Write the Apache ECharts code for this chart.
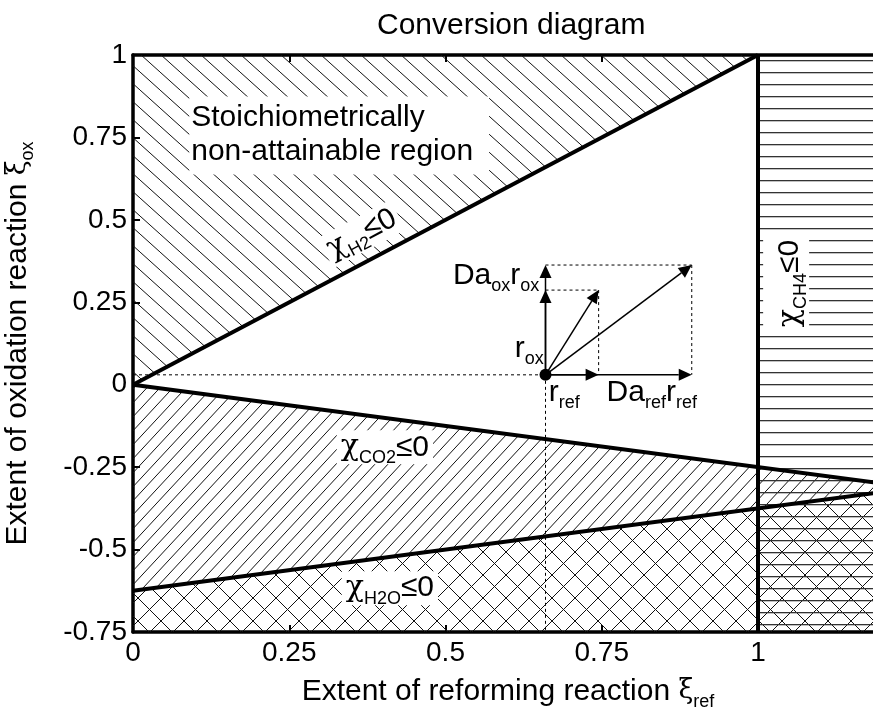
<!DOCTYPE html>
<html><head><meta charset="utf-8">
<script src="https://cdn.jsdelivr.net/npm/echarts@6/dist/echarts.min.js"></script>
<style>html,body{margin:0;padding:0;background:#fff}#c{width:873px;height:709px}</style>
</head><body><div id="c"></div>
<script>
// ---- data ----
const xTicks = [0, 0.25, 0.5, 0.75, 1];
const yTicks = [-0.75, -0.5, -0.25, 0, 0.25, 0.5, 0.75, 1];
const xMin = 0, xMax = 1.2, yMin = -0.75, yMax = 1;
const h2Line  = [[0, 0], [1, 1]];
const co2Line = [[0, 0], [1.2, -0.3]];
const h2oLine = [[0, -0.625], [1.2, -0.325]];
const ch4Line = [[1, -0.75], [1, 1]];
const h2Region  = [[0, 0], [1, 1], [0, 1]];
const co2Region = [[0, 0], [1.2, -0.3], [1.2, -0.325], [0, -0.625]];
const h2oRegion = [[0, -0.625], [1.2, -0.325], [1.2, -0.75], [0, -0.75]];
const ch4Region = [[1, -0.75], [1.2, -0.75], [1.2, 1], [1, 1]];
const rateOrigin = [0.66, 0.03];
const arrowTips = [[0.745, 0.03], [0.894, 0.03], [0.66, 0.287], [0.66, 0.363], [0.745, 0.287], [0.894, 0.363]];
const dashedLines = [
  [[0, 0.03], [0.66, 0.03]], [[0.66, 0.03], [0.66, -0.75]],
  [[0.66, 0.287], [0.745, 0.287]], [[0.745, 0.287], [0.745, 0.03]],
  [[0.66, 0.363], [0.894, 0.363]], [[0.894, 0.363], [0.894, 0.03]]
];

// ---- styles ----
const FF = 'Liberation Sans, Arial, sans-serif';
const SYM = 'DejaVu Serif, serif';
function makeHatch(w, h, draw) {
  const c = document.createElement('canvas'); c.width = w; c.height = h;
  const ctx = c.getContext('2d'); ctx.strokeStyle = '#111'; ctx.lineWidth = 1;
  draw(ctx, w, h); return c;
}
const backslash = makeHatch(20, 18, (ctx, w, h) => { for (const dx of [-w, 0, w]) { ctx.beginPath(); ctx.moveTo(dx, 0); ctx.lineTo(dx + w, h); ctx.stroke(); } });
const slash = makeHatch(13, 14, (ctx, w, h) => { for (const dx of [-w, 0, w]) { ctx.beginPath(); ctx.moveTo(dx, h); ctx.lineTo(dx + w, 0); ctx.stroke(); } });
const cross = makeHatch(23, 23, (ctx, w, h) => { for (const dx of [-w, 0, w]) { ctx.beginPath(); ctx.moveTo(dx, 0); ctx.lineTo(dx + w, h); ctx.moveTo(dx, h); ctx.lineTo(dx + w, 0); ctx.stroke(); } });
const horiz = makeHatch(8, 12, (ctx, w, h) => { ctx.fillStyle = '#333'; ctx.fillRect(0, 0, w, 1.3); });

function regionSeries(points, img, z) {
  return {
    type: 'custom', z, silent: true, clip: true, data: [0],
    renderItem: (p, api) => ({ type: 'polygon', shape: { points: points.map(pt => api.coord(pt)) }, style: { fill: { image: img, repeat: 'repeat' }, stroke: null } })
  };
}
function lineSeries(d) {
  return { type: 'line', z: 6, data: d, symbol: 'none', silent: true, lineStyle: { color: '#000', width: 4 }, clip: true };
}
const richBase = {
  n: { fontSize: 30, fontFamily: FF, color: '#000', lineHeight: 34 },
  c: { fontSize: 30, fontFamily: SYM, color: '#000', lineHeight: 34 },
  x: { fontSize: 27, fontFamily: SYM, color: '#000', lineHeight: 34 },
  s: { fontSize: 18, fontFamily: FF, color: '#000', lineHeight: 18, padding: [21, 0, 0, 0] }
};
const labels = [
  { pos: [0.09, 0.756], text: '{n|Stoichiometrically}\n{n|non-attainable region}', rot: 0, align: 'left', pad: [4, 16, 6, 2] },
  { pos: [0.366, 0.457], text: '{c|χ}{s|H2}{n|≤0}', rot: 28, align: 'center', pad: [0, 4, 0, 4] },
  { pos: [0.403, -0.19], text: '{c|χ}{s|CO2}{n|≤0}', rot: 0, align: 'center', pad: [0, 4, 0, 4] },
  { pos: [0.411, -0.617], text: '{c|χ}{s|H2O}{n|≤0}', rot: 0, align: 'center', pad: [0, 4, 0, 4] },
  { pos: [1.045, 0.31], text: '{c|χ}{s|CH4}{n|≤0}', rot: 90, align: 'center', pad: [10, 4, 2, 2] },
  { pos: [0.581, 0.33], text: '{n|Da}{s|ox}{n|r}{s|ox}', rot: 0, align: 'center', pad: 0, bg: 'transparent' },
  { pos: [0.634, 0.11], text: '{n|r}{s|ox}', rot: 0, align: 'center', pad: 0, bg: 'transparent' },
  { pos: [0.69, -0.025], text: '{n|r}{s|ref}', rot: 0, align: 'center', pad: 0, bg: 'transparent' },
  { pos: [0.83, -0.025], text: '{n|Da}{s|ref}{n|r}{s|ref}', rot: 0, align: 'center', pad: 0, bg: 'transparent' }
];

const chart = echarts.init(document.getElementById('c'));
const axisLineStyle = { color: '#000', width: 3.5 };
const tickStyle = { show: true, inside: true, length: 7, lineStyle: { color: '#000', width: 2 } };
chart.setOption({
  animation: false,
  backgroundColor: '#fff',
  title: { text: 'Conversion diagram', left: 372, top: 6, textStyle: { fontFamily: FF, fontSize: 30, fontWeight: 'normal', color: '#000' } },
  grid: { left: 133, top: 55, width: 750, height: 577, containLabel: false, outerBoundsMode: 'none' },
  xAxis: [
    { type: 'value', min: xMin, max: xMax, interval: 0.25, position: 'bottom',
      axisLine: { show: true, onZero: false, lineStyle: axisLineStyle },
      axisTick: tickStyle,
      axisLabel: { fontFamily: FF, fontSize: 28, color: '#000', margin: 7, formatter: v => xTicks.includes(v) ? String(v) : '' },
      splitLine: { show: false },
      name: '{n|Extent of reforming reaction }{x|ξ}{s|ref}', nameLocation: 'middle', nameGap: 42,
      nameTextStyle: { rich: richBase }
    },
    { type: 'value', min: xMin, max: xMax, interval: 0.25, position: 'top',
      axisLine: { show: true, onZero: false, lineStyle: axisLineStyle },
      axisTick: tickStyle,
      axisLabel: { show: false }, splitLine: { show: false } }
  ],
  yAxis: [
    { type: 'value', min: yMin, max: yMax, interval: 0.25,
      axisLine: { show: true, onZero: false, lineStyle: axisLineStyle },
      axisTick: tickStyle,
      axisLabel: { fontFamily: FF, fontSize: 28, color: '#000', margin: 6, formatter: v => yTicks.includes(v) ? String(v) : '' },
      splitLine: { show: false },
      name: '{n|Extent of oxidation reaction }{x|ξ}{s|ox}', nameLocation: 'middle', nameGap: 98, nameRotate: 90,
      nameTextStyle: { rich: richBase }
    }
  ],
  series: [
    regionSeries(h2Region, backslash, 1),
    regionSeries(co2Region, slash, 1),
    regionSeries(h2oRegion, cross, 1),
    regionSeries(ch4Region, horiz, 2),
    { type: 'custom', z: 4, silent: true, data: labels.map((l, i) => i),
      renderItem: (p, api) => {
        const l = labels[p.dataIndex];
        const pt = api.coord(l.pos);
        return { type: 'text', x: pt[0], y: pt[1], rotation: l.rot * Math.PI / 180,
          style: { text: l.text, rich: richBase, align: l.align, verticalAlign: 'middle',
            backgroundColor: l.bg || '#fff', padding: l.pad } };
      } },
    lineSeries(h2Line), lineSeries(co2Line), lineSeries(h2oLine), lineSeries(ch4Line),
    { type: 'custom', z: 7, silent: true, data: dashedLines.map((d, i) => i),
      renderItem: (p, api) => {
        const d = dashedLines[p.dataIndex];
        const a = api.coord(d[0]), b = api.coord(d[1]);
        return { type: 'line', shape: { x1: a[0], y1: a[1], x2: b[0], y2: b[1] }, style: { stroke: '#000', lineWidth: 1, lineDash: [3, 3] } };
      } },
    { type: 'custom', z: 8, silent: true, data: arrowTips.map((d, i) => i),
      renderItem: (p, api) => {
        const a = api.coord(rateOrigin), b = api.coord(arrowTips[p.dataIndex]);
        const dx = b[0] - a[0], dy = b[1] - a[1], L = Math.hypot(dx, dy), ux = dx / L, uy = dy / L;
        const hl = 13, hw = 6;
        const bx = b[0] - ux * hl, by = b[1] - uy * hl;
        return { type: 'group', children: [
          { type: 'line', shape: { x1: a[0], y1: a[1], x2: bx, y2: by }, style: { stroke: '#000', lineWidth: 1.5 } },
          { type: 'polygon', shape: { points: [[b[0], b[1]], [bx - uy * hw, by + ux * hw], [bx + uy * hw, by - ux * hw]] }, style: { fill: '#000' } }
        ] };
      } },
    { type: 'custom', z: 9, silent: true, data: [0],
      renderItem: (p, api) => { const a = api.coord(rateOrigin); return { type: 'circle', shape: { cx: a[0], cy: a[1], r: 6 }, style: { fill: '#000' } }; } }
  ]
});
</script></body></html>
